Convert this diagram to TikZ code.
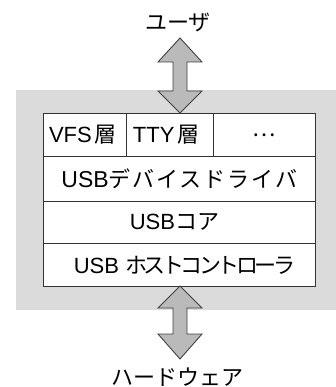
\documentclass[tikz,border=0pt]{standalone}
\usepackage{fontspec}
\setmainfont{Liberation Sans}
\newfontfamily\jp{Noto Sans CJK JP}
\newfontfamily\jpw{Noto Sans CJK JP}[LetterSpace=9]
\newfontfamily\jpn{Noto Sans CJK JP}[LetterSpace=-16]
\newcommand\J[1]{{\jp #1}}
\newcommand\JW[1]{{\jpw #1}}
\newcommand\JN[1]{{\jpn #1}}
\begin{document}
\begin{tikzpicture}[x=1pt,y=-1pt,
  cell/.style={draw=black!80,line width=0.9pt,fill=white,inner sep=0pt,anchor=north west,font=\fontsize{22}{24}\selectfont},
  lbl/.style={font=\fontsize{22}{24}\selectfont,inner sep=0pt},
  blockarrow/.style={draw=black!75,line width=0.9pt,fill=black!27,line join=miter}]
\useasboundingbox (0,0) rectangle (336,387);
\fill[black!14] (16,90) rectangle (336,310);
\node[cell,minimum width=83pt,minimum height=43pt] (vfs) at (43,113) {VFS\hspace{3pt}\J{層}\hspace*{4pt}};
\node[cell,minimum width=86.5pt,minimum height=43pt] (tty) at (126,113) {TTY\hspace{3pt}\J{層}\hspace*{7pt}};
\node[cell,minimum width=102.5pt,minimum height=43pt] (etc) at (212.5,113) {\J{…}};
\node[cell,minimum width=272pt,minimum height=44pt] (drv) at (43,156.5) {{\fontsize{23}{24}\selectfont USB}\JW{デバイスドライバ}};
\node[cell,minimum width=272pt,minimum height=42.5pt] (core) at (43,200.5) {USB\J{コア}\hspace*{10pt}};
\node[cell,minimum width=272pt,minimum height=43pt] (hc) at (43,243) {\hspace*{10pt}USB \JN{ホストコントローラ}};
\node[lbl] (user) at (178,22) {\J{ユーザ}};
\node[lbl] (hw) at (177,377) {\J{ハードウェア}};
\draw[blockarrow] (180,38) -- (202,62) -- (187,62) -- (187,91) -- (202,91) -- (180,113) -- (158,91) -- (173,91) -- (173,62) -- (158,62) -- cycle;
\draw[blockarrow] (180,286) -- (202,308) -- (187,308) -- (187,334) -- (202,334) -- (180,359) -- (158,334) -- (173,334) -- (173,308) -- (158,308) -- cycle;
\end{tikzpicture}
\end{document}
